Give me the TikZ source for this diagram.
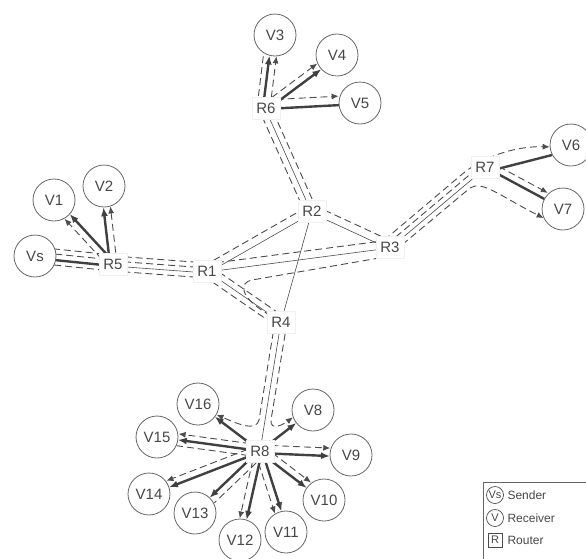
\documentclass[tikz,border=0pt]{standalone}
\usepackage{fontspec}
\setmainfont{Liberation Sans}
\usetikzlibrary{calc,arrows.meta,backgrounds}
\newcommand\plink[4][]{\path[#1] ($(#2)!#4!90:(#3)$) -- ($(#3)!#4!-90:(#2)$);}
\begin{document}
\begin{tikzpicture}[x=1pt,y=-1pt,
  font=\fontsize{15}{17}\selectfont,
  every node/.style={text=black!72},
  rcv/.style={circle,draw=black!60,line width=0.8pt,fill=white,minimum size=42pt,inner sep=0pt},
  rtr/.style={rectangle,fill=white,draw=black!6,minimum width=28pt,minimum height=22pt,inner sep=1pt},
  dsh/.style={draw=black!70,line width=0.9pt,dash pattern=on 7pt off 4pt},
  thn/.style={draw=black!70,line width=0.6pt},
  thk/.style={draw=black!75,line width=2.4pt},
  tip/.style={-{Latex[length=9pt,width=7pt]}},
  dtip/.style={-{Latex[length=7pt,width=6pt]}},
  ]
\useasboundingbox (0,0) rectangle (586,558);
% nodes
\node[rcv] (V3) at (275,35) {V3};
\node[rcv] (V4) at (337,55) {V4};
\node[rcv] (V5) at (360,103) {V5};
\node[rtr] (R6) at (266,108) {R6};
\node[rcv] (V1) at (54,200) {V1};
\node[rcv] (V2) at (104,186) {V2};
\node[rcv] (Vs) at (35,256) {Vs};
\node[rtr] (R5) at (113,264) {R5};
\node[rtr] (R1) at (207,271) {R1};
\node[rtr] (R2) at (312,211) {R2};
\node[rtr] (R3) at (390,247) {R3};
\node[rtr] (R4) at (281,322) {R4};
\node[rtr] (R7) at (485,167) {R7};
\node[rcv] (V6) at (571,145) {V6};
\node[rcv] (V7) at (563,209) {V7};
\node[rtr] (R8) at (260,451) {R8};
\node[rcv] (V8) at (313,410) {V8};
\node[rcv] (V9) at (351,455) {V9};
\node[rcv] (V10) at (324,500) {V10};
\node[rcv] (V11) at (286,532) {V11};
\node[rcv] (V12) at (240,540) {V12};
\node[rcv] (V13) at (195,513) {V13};
\node[rcv] (V14) at (149,494) {V14};
\node[rcv] (V15) at (157,437) {V15};
\node[rcv] (V16) at (198,404) {V16};
% legend
\draw[black!60,line width=0.7pt] (483,482) rectangle (600,570);
\node[circle,draw=black!70,line width=0.7pt,minimum size=17pt,inner sep=0pt,font=\fontsize{11}{12}\selectfont] (Ls) at (495,495) {Vs};
\node[anchor=west,font=\fontsize{12}{14}\selectfont] (Lst) at (504,495) {Sender};
\node[circle,draw=black!70,line width=0.7pt,minimum size=17pt,inner sep=0pt,font=\fontsize{11}{12}\selectfont] (Lv) at (495,518) {V};
\node[anchor=west,font=\fontsize{12}{14}\selectfont] (Lvt) at (504,518) {Receiver};
\node[rectangle,draw=black!70,line width=0.7pt,minimum size=14pt,inner sep=0pt,font=\fontsize{11}{12}\selectfont] (Lr) at (495,540) {R};
\node[anchor=west,font=\fontsize{12}{14}\selectfont] (Lrt) at (504,540) {Router};
\begin{scope}[on background layer]
% Vs-R5
\plink[thk,shorten <=20pt]{Vs}{R5}{-2pt}
\plink[dsh,shorten <=20pt]{Vs}{R5}{4pt}
\plink[dsh,shorten <=17pt]{Vs}{R5}{9pt}
\plink[dsh,shorten <=20pt]{Vs}{R5}{-7pt}
% R5-R1
\plink[dsh]{R5}{R1}{8pt}
\plink[dsh]{R5}{R1}{3pt}
\plink[thn]{R5}{R1}{-2pt}
\plink[dsh]{R5}{R1}{-7pt}
% R5-V1, V2
\plink[thk,tip,shorten >=21pt]{R5}{V1}{-2pt}
\plink[dsh,dtip,shorten >=21pt]{R5}{V1}{5pt}
\plink[thk,tip,shorten >=21pt]{R5}{V2}{3pt}
\plink[dsh,dtip,shorten >=21pt]{R5}{V2}{-4pt}
% R1-R2, R1-R3
\plink[dsh]{R1}{R2}{6pt}
\plink[thn]{R1}{R2}{-2pt}
\plink[dsh]{R1}{R3}{7pt}
\plink[thn]{R1}{R3}{-1pt}
\draw[dsh] ($(R3)!9pt!90:(R1)$) -- (252,280) .. controls (240,282) and (238,296) .. (R4);
% R2-R3, R2-R4
\plink[dsh]{R2}{R3}{6pt}
\plink[thn]{R2}{R3}{-2pt}
\draw[thn] (R2) -- (R4);
% R2-R6
\plink[dsh]{R2}{R6}{7pt}
\plink[thn]{R2}{R6}{1pt}
\plink[dsh]{R2}{R6}{-5pt}
% R6 receivers
\plink[dsh,shorten >=21pt]{R6}{V3}{9pt}
\plink[thk,tip,shorten >=21pt]{R6}{V3}{3pt}
\plink[dsh,dtip,shorten >=21pt]{R6}{V3}{-4pt}
\plink[thk,tip,shorten >=21pt]{R6}{V4}{-2pt}
\plink[dsh,dtip,shorten >=21pt]{R6}{V4}{5pt}
\plink[thk,shorten >=21pt]{R6}{V5}{-1pt}
\plink[dsh,dtip,shorten >=21pt]{R6}{V5}{8pt}
% R1-R4
\plink[dsh]{R1}{R4}{6pt}
\plink[thn]{R1}{R4}{0pt}
\plink[dsh]{R1}{R4}{-6pt}
% R4-R8
\plink[thn]{R4}{R8}{0pt}
\draw[dsh,dtip] ($(R4)!-6pt!90:(R8)$) -- (259,420) .. controls (256,432) and (238,424) .. (V16.-30);
\draw[dsh,dtip] ($(R4)!6pt!90:(R8)$) -- (271,420) .. controls (270,432) and (284,424) .. (V8.200);
% R3-R7
\plink[dsh]{R3}{R7}{4pt}
\plink[thn]{R3}{R7}{-1pt}
\draw[dsh,dtip] ($(R3)!9pt!90:(R7)$) -- (460,176) .. controls (478,160) and (510,146) .. (V6.185);
\draw[dsh,dtip] ($(R3)!-6pt!90:(R7)$) -- (470,188) .. controls (482,180) and (500,196) .. (V7.205);
% R7 receivers
\plink[thk,shorten >=21pt,shorten <=14pt]{R7}{V6}{-5pt}
\plink[thk,shorten >=21pt,shorten <=12pt]{R7}{V7}{0pt}
\plink[dsh,dtip,shorten >=21pt,shorten <=12pt]{R7}{V7}{7pt}
% R8 receivers
\plink[thk,tip,shorten >=21pt]{R8}{V8}{0pt}
\plink[thk,tip,shorten >=21pt]{R8}{V9}{-2pt}
\plink[dsh,dtip,shorten >=21pt]{R8}{V9}{6pt}
\plink[thk,tip,shorten >=21pt]{R8}{V10}{-1pt}
\plink[dsh,dtip,shorten >=21pt]{R8}{V10}{6pt}
\plink[thk,tip,shorten >=21pt]{R8}{V11}{2pt}
\plink[dsh,dtip,shorten >=21pt]{R8}{V11}{-5pt}
\plink[thk,tip,shorten >=21pt]{R8}{V12}{2pt}
\plink[dsh,dtip,shorten >=21pt]{R8}{V12}{-5pt}
\plink[thk,tip,shorten >=21pt]{R8}{V13}{-1pt}
\plink[dsh,shorten >=21pt]{R8}{V13}{6pt}
\plink[thk,tip,shorten >=21pt]{R8}{V14}{1pt}
\plink[dsh,dtip,shorten >=21pt]{R8}{V14}{-6pt}
\plink[thk,tip,shorten >=21pt]{R8}{V15}{0pt}
\plink[dsh,dtip,shorten >=21pt]{R8}{V15}{-6pt}
\plink[dsh,shorten >=21pt]{R8}{V15}{6pt}
\plink[thk,tip,shorten >=21pt]{R8}{V16}{0pt}
\end{scope}
\end{tikzpicture}
\end{document}
